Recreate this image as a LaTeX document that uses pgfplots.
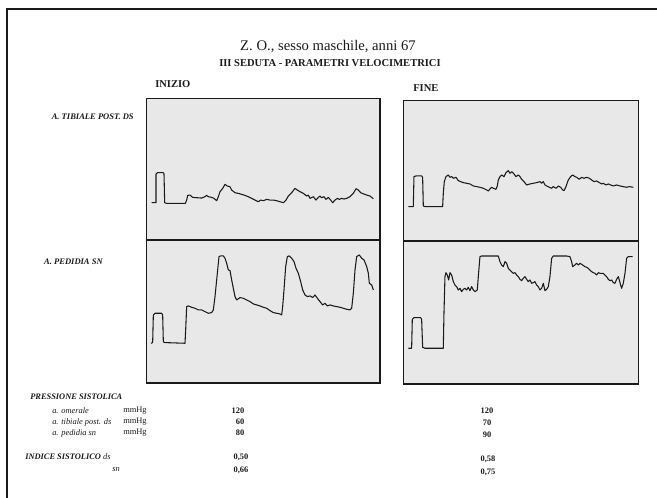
\documentclass[border=0pt]{standalone}
\usepackage{pgfplots}
\pgfplotsset{compat=1.18}
\usepackage{fontspec}
\setmainfont{Liberation Serif}

\definecolor{ink}{HTML}{1A1A1A}
\definecolor{panel}{HTML}{E8E8E8}

\pgfplotsset{
  panel/.style={scale only axis, xtick=\empty, ytick=\empty, y dir=reverse,
    axis line style={ink, line width=1.2pt},
    axis background/.style={fill=panel}, anchor=center},
  wave/.style={ink, line width=0.8pt, no marks, line join=round}
}
\newcommand{\fs}[1]{\fontsize{#1}{#1}\selectfont}

\begin{document}
\begin{tikzpicture}
\path[use as bounding box] (0,0) rectangle (492.75pt,-373.5pt);
\draw[ink, line width=0.8pt] (5.25pt,-373.5pt) -- (5.25pt,-6.75pt) -- (492.75pt,-6.75pt);

% Left top: A. tibiale post. ds, inizio
\begin{axis}[panel, at={(197.5pt,-126.9pt)}, width=175pt, height=106.3pt,
  xmin=20, xmax=720, ymin=55, ymax=480]
\addplot[wave] coordinates {(35,368) (48,368) (48,282) (52,278) (70,278) (72,282) (74,368) (80,370) (136,370) (140,360) (143,346) (150,345) (158,352) (170,353) (185,354) (195,350) (200,346) (205,350) (215,352) (222,355) (230,362) (235,350) (240,335) (248,325) (255,313) (262,318) (270,320) (275,330) (285,338) (295,340) (305,343) (315,346) (325,350) (335,355) (345,360) (355,365) (362,360) (370,362) (380,358) (390,360) (400,360) (410,362) (420,365) (430,368) (438,360) (445,348) (455,338) (465,325) (472,330) (480,335) (490,340) (500,348) (505,345) (510,355) (520,350) (528,360) (535,352) (540,348) (545,353) (552,350) (558,358) (565,352) (572,360) (578,368) (585,360) (592,355) (598,358) (605,355) (612,357) (620,355) (630,350) (640,340) (648,326) (655,330) (662,338) (672,342) (680,345) (690,348) (700,356)};
\end{axis}

% Left bottom: A. pedidia sn, inizio
\begin{axis}[panel, at={(197.5pt,-233.7pt)}, width=175pt, height=107.5pt,
  xmin=20, xmax=720, ymin=30, ymax=460]
\addplot[wave] coordinates {(33,340) (38,338) (40,255) (45,250) (65,250) (68,255) (70,336) (75,338) (135,340) (137,300) (140,230) (145,228) (155,232) (165,235) (175,240) (185,240) (195,245) (205,250) (215,248) (220,240) (225,200) (232,130) (237,80) (242,78) (250,78) (255,85) (260,100) (265,120) (270,122) (275,150) (280,175) (285,200) (290,210) (300,203) (310,205) (320,210) (330,215) (340,222) (350,225) (360,228) (370,232) (380,235) (390,242) (400,248) (410,250) (420,252) (425,255) (428,230) (432,180) (437,110) (442,80) (448,78) (455,85) (462,95) (468,115) (475,130) (482,155) (488,180) (495,195) (502,200) (510,198) (518,203) (525,195) (532,205) (540,215) (548,225) (555,220) (562,228) (570,225) (580,228) (590,230) (600,232) (610,235) (620,238) (630,240) (635,235) (640,190) (645,120) (650,80) (658,75) (665,85) (672,90) (680,110) (685,130) (688,160) (695,165) (700,180)};
\end{axis}

% Right top: A. tibiale post. ds, fine
\begin{axis}[panel, at={(390.6pt,-128.1pt)}, width=176.25pt, height=105.2pt,
  xmin=40, xmax=745, ymin=62, ymax=483]
\addplot[wave] coordinates {(55,380) (70,380) (72,290) (78,288) (95,288) (98,292) (100,378) (105,380) (158,380) (160,340) (163,305) (168,290) (175,285) (180,292) (185,290) (190,295) (198,292) (205,302) (212,305) (220,308) (230,310) (240,312) (250,318) (260,320) (270,322) (280,325) (290,330) (295,333) (300,327) (305,322) (310,325) (318,328) (322,318) (325,300) (330,290) (335,285) (342,290) (348,278) (355,272) (360,280) (365,275) (372,282) (378,290) (385,285) (390,290) (395,298) (402,305) (410,315) (420,312) (430,310) (440,308) (450,305) (455,310) (460,305) (465,315) (470,318) (478,322) (485,325) (490,320) (498,325) (505,318) (512,322) (518,330) (522,332) (528,320) (535,300) (542,290) (548,285) (555,290) (560,292) (568,298) (575,292) (582,295) (590,292) (598,295) (605,300) (612,305) (620,303) (628,308) (635,312) (640,310) (648,315) (655,312) (662,315) (670,318) (680,315) (690,318) (700,320) (710,322) (718,320) (730,322)};
\end{axis}

% Right bottom: A. pedidia sn, fine
\begin{axis}[panel, at={(390.6pt,-234.6pt)}, width=176.25pt, height=106.7pt,
  xmin=40, xmax=745, ymin=35, ymax=462]
\addplot[wave] coordinates {(55,355) (65,355) (67,268) (72,263) (92,263) (95,268) (98,352) (105,355) (160,355) (162,250) (165,140) (168,128) (172,135) (176,150) (180,128) (185,135) (190,155) (195,165) (200,170) (205,180) (210,175) (215,185) (220,178) (225,175) (230,180) (235,172) (240,182) (245,170) (250,180) (255,185) (262,180) (265,140) (270,80) (275,78) (325,78) (330,95) (335,105) (340,110) (345,95) (350,100) (355,115) (360,120) (365,125) (370,130) (375,128) (380,135) (385,140) (390,148) (395,152) (400,145) (405,140) (410,148) (415,155) (420,150) (425,160) (430,158) (435,155) (440,165) (445,170) (450,180) (455,175) (460,160) (465,182) (470,178) (475,170) (480,140) (485,85) (490,78) (530,78) (540,80) (545,95) (548,110) (555,105) (560,100) (565,105) (570,100) (578,105) (585,110) (590,112) (595,115) (600,120) (605,125) (610,128) (615,130) (620,135) (625,128) (630,130) (640,130) (645,135) (650,140) (655,148) (660,152) (665,150) (670,158) (675,160) (680,148) (685,140) (688,150) (692,165) (695,175) (700,160) (705,130) (710,85) (715,80) (728,80)};
\end{axis}

% Titles
\node[ink, inner sep=0pt] at (246pt,-35.25pt) {\fs{11}Z. O., sesso maschile, anni 67};
\node[ink, inner sep=0pt] at (247.5pt,-47.25pt) {\fs{7.9}\bfseries III SEDUTA - PARAMETRI VELOCIMETRICI};
\node[ink, inner sep=0pt, anchor=west] at (116.25pt,-63pt) {\fs{7.9}\bfseries INIZIO};
\node[ink, inner sep=0pt, anchor=west] at (309.75pt,-66pt) {\fs{7.9}\bfseries FINE};
\node[ink, inner sep=0pt, anchor=east] at (100.5pt,-87.75pt) {\fs{6.4}\bfseries\itshape A. TIBIALE POST. DS};
\node[ink, inner sep=0pt, anchor=east] at (77.25pt,-196.5pt) {\fs{6.4}\bfseries\itshape A. PEDIDIA SN};

% Bottom table
\begin{scope}[every node/.style={ink, inner sep=0pt}]
\node[anchor=west] at (22.5pt,-297.75pt) {\fs{6.3}\bfseries\itshape PRESSIONE SISTOLICA};
\node[anchor=west] at (39pt,-308.25pt) {\fs{6.3}\itshape a. omerale};
\node[anchor=west] at (39pt,-316.5pt) {\fs{6.3}\itshape a. tibiale post. ds};
\node[anchor=west] at (39pt,-324.75pt) {\fs{6.3}\itshape a. pedidia sn};
\node[anchor=west] at (92.25pt,-308.25pt) {\fs{6.3}mmHg};
\node[anchor=west] at (92.25pt,-316.5pt) {\fs{6.3}mmHg};
\node[anchor=west] at (92.25pt,-324.75pt) {\fs{6.3}mmHg};
\node at (178.5pt,-308.25pt) {\fs{6.3}\bfseries 120};
\node at (180pt,-316.5pt) {\fs{6.3}\bfseries 60};
\node at (180pt,-324.75pt) {\fs{6.3}\bfseries 80};
\node at (365.25pt,-308.25pt) {\fs{6.3}\bfseries 120};
\node at (365.25pt,-317.25pt) {\fs{6.3}\bfseries 70};
\node at (365.25pt,-326.25pt) {\fs{6.3}\bfseries 90};
\node[anchor=west] at (18.75pt,-342.75pt) {\fs{6.3}{\bfseries\itshape INDICE SISTOLICO}\ \itshape ds};
\node[anchor=east] at (90pt,-352.5pt) {\fs{6.3}\itshape sn};
\node at (180.75pt,-342.75pt) {\fs{6.3}\bfseries 0,50};
\node at (180.75pt,-352.5pt) {\fs{6.3}\bfseries 0,66};
\node at (366pt,-344.25pt) {\fs{6.3}\bfseries 0,58};
\node at (366pt,-354pt) {\fs{6.3}\bfseries 0,75};
\end{scope}
\end{tikzpicture}
\end{document}
